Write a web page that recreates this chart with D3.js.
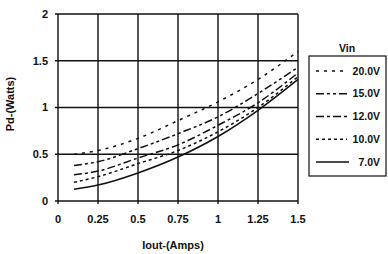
<!DOCTYPE html>
<meta charset="utf-8"/>
<style>
  body { margin: 0; background: #fff; }
  text { font-family: "Liberation Sans", Arial, sans-serif; font-weight: bold; fill: #111; }
</style>
<svg width="388" height="254"></svg>
<script src="https://d3js.org/d3.v7.min.js"></script>
<script>

// data
var iout = [0.1, 0.25, 0.5, 0.75, 1.0, 1.25, 1.5];
var vinLabels = ["20.0V", "15.0V", "12.0V", "10.0V", "7.0V"];
var pd20 = [0.50, 0.54, 0.67, 0.86, 1.06, 1.30, 1.60];
var pd15 = [0.38, 0.42, 0.56, 0.72, 0.90, 1.15, 1.43];
var pd12 = [0.28, 0.32, 0.46, 0.60, 0.81, 1.05, 1.37];
var pd10 = [0.20, 0.26, 0.40, 0.54, 0.74, 1.00, 1.33];
var pd7  = [0.125, 0.17, 0.30, 0.47, 0.69, 0.97, 1.30];
var xTicks = [0, 0.25, 0.5, 0.75, 1, 1.25, 1.5];
var yTicks = [0, 0.5, 1, 1.5, 2];

var series = [pd20, pd15, pd12, pd10, pd7];
var dashes = ["3,5", "8,3,3,3,3,3", "8,3,3,3", "3,3", null];

var svg = d3.select("svg"),
    margin = {top: 14, left: 58},
    width = 240,
    height = 187,
    g = svg.append("g").attr("transform", "translate(" + margin.left + "," + margin.top + ")");

var x = d3.scaleLinear().domain([0, 1.5]).range([0, width]);
var y = d3.scaleLinear().domain([0, 2]).range([height, 0]);

// grid
g.selectAll(".vgrid").data(xTicks).enter().append("line")
    .attr("x1", function(d) { return x(d); })
    .attr("x2", function(d) { return x(d); })
    .attr("y1", 0).attr("y2", height + 3)
    .attr("stroke", "#111").attr("stroke-width", 1.4);

g.selectAll(".hgrid").data(yTicks).enter().append("line")
    .attr("x1", -3).attr("x2", width)
    .attr("y1", function(d) { return y(d); })
    .attr("y2", function(d) { return y(d); })
    .attr("stroke", "#111").attr("stroke-width", 1.4);

// tick labels
g.selectAll(".ylab").data(yTicks).enter().append("text")
    .attr("x", -10)
    .attr("y", function(d) { return y(d); })
    .attr("dy", "0.35em")
    .attr("text-anchor", "end")
    .style("font-size", "11px")
    .text(function(d) { return d; });

g.selectAll(".xlab").data(xTicks).enter().append("text")
    .attr("x", function(d) { return x(d); })
    .attr("y", 223 - margin.top)
    .attr("text-anchor", "middle")
    .style("font-size", "11px")
    .text(function(d) { return d; });

// axis titles
svg.append("text")
    .attr("transform", "translate(14,104) rotate(-90)")
    .attr("text-anchor", "middle")
    .style("font-size", "11px")
    .text("Pd-(Watts)");

svg.append("text")
    .attr("x", 173).attr("y", 249)
    .attr("text-anchor", "middle")
    .style("font-size", "11px")
    .text("Iout-(Amps)");

// curves
var line = d3.line()
    .x(function(d, i) { return x(iout[i]); })
    .y(function(d) { return y(d); })
    .curve(d3.curveMonotoneX);

series.forEach(function(s, i) {
  g.append("path")
      .datum(s)
      .attr("fill", "none")
      .attr("stroke", "#111")
      .attr("stroke-width", 1.5)
      .attr("stroke-dasharray", dashes[i])
      .attr("d", line);
});

// legend
svg.append("text")
    .attr("x", 347).attr("y", 52)
    .attr("text-anchor", "middle")
    .style("font-size", "10.5px")
    .text("Vin");

svg.append("rect")
    .attr("x", 309).attr("y", 56)
    .attr("width", 77).attr("height", 120)
    .attr("fill", "none")
    .attr("stroke", "#111").attr("stroke-width", 1.2);

var ly = d3.scalePoint().domain(vinLabels).range([71, 162]);

vinLabels.forEach(function(lab, i) {
  svg.append("line")
      .attr("x1", 316).attr("x2", i == 4 ? 349 : 347)
      .attr("y1", ly(lab)).attr("y2", ly(lab))
      .attr("stroke", "#111").attr("stroke-width", 1.5)
      .attr("stroke-dasharray", dashes[i]);
  svg.append("text")
      .attr("x", 380).attr("y", ly(lab))
      .attr("dy", "0.35em")
      .attr("text-anchor", "end")
      .style("font-size", "10.5px")
      .text(lab);
});

</script>
